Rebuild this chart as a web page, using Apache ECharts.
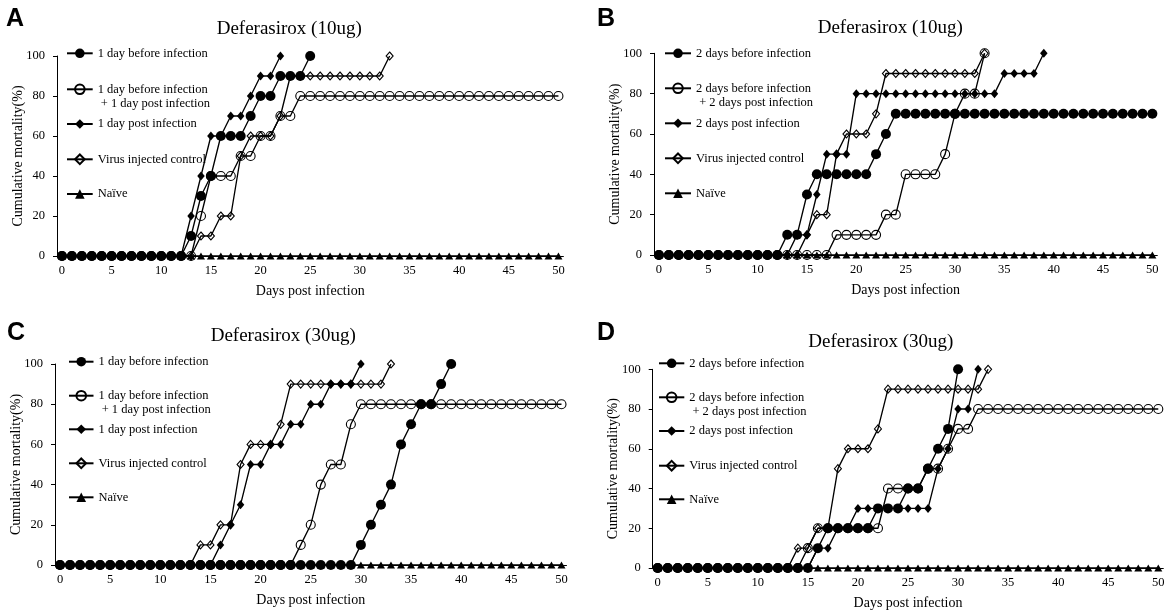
<!DOCTYPE html>
<html><head><meta charset="utf-8">
<script src="https://cdn.jsdelivr.net/npm/echarts@6/dist/echarts.min.js"></script>
<style>html,body{margin:0;padding:0;background:#fff}#c{width:1174px;height:611px}</style>
</head><body><div id="c"></div>
<script>
// ---------- DATA ----------
const days = ['0','1','2','3','4','5','6','7','8','9','10','11','12','13','14','15','16','17','18','19','20','21','22','23','24','25','26','27','28','29','30','31','32','33','34','35','36','37','38','39','40','41','42','43','44','45','46','47','48','49','50'];
const xTickLabels = ['0','5','10','15','20','25','30','35','40','45','50'];
const yTicks = [0,20,40,60,80,100];

const namesA = ['1 day before infection','1 day before infection + 1 day post infection','1 day post infection','Virus injected control','Naïve'];
const namesB = ['2 days before infection','2 days before infection + 2 days post infection','2 days post infection','Virus injected control','Naïve'];
const titles = ['Deferasirox (10ug)','Deferasirox (10ug)','Deferasirox (30ug)','Deferasirox (30ug)'];
const letters = ['A','B','C','D'];

// values indexed by day (0,1,2,...)
const A_before = [0,0,0,0,0,0,0,0,0,0,0,0,0,10,30,40,60,60,60,70,80,80,90,90,90,100];
const A_combo  = [0,0,0,0,0,0,0,0,0,0,0,0,0,0,20,40,40,40,50,50,60,60,70,70,80,80,80,80,80,80,80,80,80,80,80,80,80,80,80,80,80,80,80,80,80,80,80,80,80,80,80];
const A_post   = [0,0,0,0,0,0,0,0,0,0,0,0,0,20,40,60,60,70,70,80,90,90,100];
const A_virus  = [0,0,0,0,0,0,0,0,0,0,0,0,0,0,10,10,20,20,50,60,60,60,70,90,90,90,90,90,90,90,90,90,90,100];
const A_naive  = [0,0,0,0,0,0,0,0,0,0,0,0,0,0,0,0,0,0,0,0,0,0,0,0,0,0,0,0,0,0,0,0,0,0,0,0,0,0,0,0,0,0,0,0,0,0,0,0,0,0,0];

const B_before = [0,0,0,0,0,0,0,0,0,0,0,0,0,10,10,30,40,40,40,40,40,40,50,60,70,70,70,70,70,70,70,70,70,70,70,70,70,70,70,70,70,70,70,70,70,70,70,70,70,70,70];
const B_combo  = [0,0,0,0,0,0,0,0,0,0,0,0,0,0,0,0,0,0,10,10,10,10,10,20,20,40,40,40,40,50,70,80,80,100];
const B_post   = [0,0,0,0,0,0,0,0,0,0,0,0,0,0,0,10,30,50,50,50,80,80,80,80,80,80,80,80,80,80,80,80,80,80,80,90,90,90,90,100];
const B_virus  = [0,0,0,0,0,0,0,0,0,0,0,0,0,0,10,10,20,20,50,60,60,60,70,90,90,90,90,90,90,90,90,90,90,100];
const B_naive  = [0,0,0,0,0,0,0,0,0,0,0,0,0,0,0,0,0,0,0,0,0,0,0,0,0,0,0,0,0,0,0,0,0,0,0,0,0,0,0,0,0,0,0,0,0,0,0,0,0,0,0];

const C_before = [0,0,0,0,0,0,0,0,0,0,0,0,0,0,0,0,0,0,0,0,0,0,0,0,0,0,0,0,0,0,10,20,30,40,60,70,80,80,90,100];
const C_combo  = [0,0,0,0,0,0,0,0,0,0,0,0,0,0,0,0,0,0,0,0,0,0,0,0,10,20,40,50,50,70,80,80,80,80,80,80,80,80,80,80,80,80,80,80,80,80,80,80,80,80,80];
const C_post   = [0,0,0,0,0,0,0,0,0,0,0,0,0,0,0,0,10,20,30,50,50,60,60,70,70,80,80,90,90,90,100];
const C_virus  = [0,0,0,0,0,0,0,0,0,0,0,0,0,0,10,10,20,20,50,60,60,60,70,90,90,90,90,90,90,90,90,90,90,100];
const C_naive  = [0,0,0,0,0,0,0,0,0,0,0,0,0,0,0,0,0,0,0,0,0,0,0,0,0,0,0,0,0,0,0,0,0,0,0,0,0,0,0,0,0,0,0,0,0,0,0,0,0,0,0];

const D_before = [0,0,0,0,0,0,0,0,0,0,0,0,0,0,0,0,10,20,20,20,20,20,30,30,30,40,40,50,60,70,100];
const D_combo  = [0,0,0,0,0,0,0,0,0,0,0,0,0,0,0,10,20,20,20,20,20,20,20,40,40,40,40,50,50,60,70,70,80,80,80,80,80,80,80,80,80,80,80,80,80,80,80,80,80,80,80];
const D_post   = [0,0,0,0,0,0,0,0,0,0,0,0,0,0,0,0,10,10,20,20,30,30,30,30,30,30,30,30,50,60,80,80,100];
const D_virus  = [0,0,0,0,0,0,0,0,0,0,0,0,0,0,10,10,20,20,50,60,60,60,70,90,90,90,90,90,90,90,90,90,90,100];
const D_naive  = [0,0,0,0,0,0,0,0,0,0,0,0,0,0,0,0,0,0,0,0,0,0,0,0,0,0,0,0,0,0,0,0,0,0,0,0,0,0,0,0,0,0,0,0,0,0,0,0,0,0,0];

// ---------- LAYOUT / STYLE ----------
const SERIF = '"Liberation Serif","Times New Roman",serif';
const panels = [
  {grid:{left:57,  top:56,    width:506.4, height:200}, names:namesA, data:[A_before,A_combo,A_post,A_virus,A_naive],
   title:{x:216.7,y:29}, letter:{x:6,y:19}, legend:{x:66, w:25.7, ys:[53.3,89.3,124,159.3,194]}},
  {grid:{left:654, top:53.3,  width:503.3, height:201.7}, names:namesB, data:[B_before,B_combo,B_post,B_virus,B_naive],
   title:{x:817.7,y:28.5}, letter:{x:597,y:19}, legend:{x:664, w:26, ys:[53.3,88.3,123.3,158.3,193.3]}},
  {grid:{left:55,  top:364,   width:511.5, height:201}, names:namesA, data:[C_before,C_combo,C_post,C_virus,C_naive],
   title:{x:210.7,y:336.5}, letter:{x:7,y:333}, legend:{x:68, w:24.5, ys:[361.7,395.7,429.3,463.3,497.3]}},
  {grid:{left:652.7,top:369.3, width:510.6, height:200}, names:namesB, data:[D_before,D_combo,D_post,D_virus,D_naive],
   title:{x:808.3,y:342}, letter:{x:597,y:333}, legend:{x:658, w:25.3, ys:[363.3,397.3,431,465.7,499.3]}}
];
// marker styles per series role: before(filled circle), combo(open circle), post(filled diamond), virus(open diamond), naive(triangle)
const marks = [
  {symbol:'circle',   size:10,     fill:'#000', bw:0, z:6},
  {symbol:'circle',   size:9,      fill:'rgba(0,0,0,0)', bw:1.1, z:3},
  {symbol:'diamond',  size:[7.5,9],fill:'#000', bw:0, z:5},
  {symbol:'diamond',  size:[7,8],  fill:'rgba(0,0,0,0)', bw:1.1, z:4},
  {symbol:'triangle', size:[8,7],  fill:'#000', bw:0, z:2}
];

const grids=[], xAxes=[], yAxes=[], series=[], legends=[], graphics=[];
panels.forEach((p, pi) => {
  grids.push(Object.assign({containLabel:false}, p.grid));
  xAxes.push({gridIndex:pi, type:'category', data:days, boundaryGap:true,
    axisLine:{lineStyle:{color:'#000', width:1}}, axisTick:{show:false},
    axisLabel:{interval:4, color:'#000', fontFamily:SERIF, fontSize:12.5, margin:8,
      formatter:v => xTickLabels.includes(v) ? v : ''},
    splitLine:{show:false},
    name:'Days post infection', nameLocation:'middle', nameGap:28, nameMoveOverlap:false,
    nameTextStyle:{color:'#000', fontFamily:SERIF, fontSize:14}});
  yAxes.push({gridIndex:pi, type:'value', min:yTicks[0], max:yTicks[yTicks.length-1], interval:20,
    axisLine:{show:true, lineStyle:{color:'#000', width:1}},
    axisTick:{show:true, length:4, lineStyle:{color:'#000', width:1}},
    splitLine:{show:false},
    axisLabel:{color:'#000', fontFamily:SERIF, fontSize:12.5, margin:12},
    name:'Cumulative mortality(%)', nameLocation:'middle', nameGap:32, nameMoveOverlap:false,
    nameTextStyle:{color:'#000', fontFamily:SERIF, fontSize:14}});
  p.names.forEach((nm, si) => {
    const m = marks[si];
    series.push({type:'line', name:nm, xAxisIndex:pi, yAxisIndex:pi, data:p.data[si],
      symbol:m.symbol, symbolSize:m.size, showAllSymbol:true, z:m.z, animation:false,
      lineStyle:{color:'#000', width:1.35},
      itemStyle:{color:m.fill, borderColor:'#000', borderWidth:m.bw},
      emphasis:{disabled:true}});
    const twoLine = si === 1;
    const cy = p.legend.ys[si];
    legends.push({data:[nm], orient:'vertical', left:p.legend.x, top: twoLine ? cy-21 : cy-7,
      padding:0, itemWidth:p.legend.w, itemHeight:12, selectedMode:false,
      formatter: n => twoLine ? '\n' + n.replace(' + ', '\n + ') : n,
      textStyle:{color:'#000', fontFamily:SERIF, fontSize:12.5, lineHeight:14}});
  });
  graphics.push({type:'text', x:p.title.x, y:p.title.y, silent:true,
    style:{text:titles[pi], fill:'#000', fontFamily:SERIF, fontSize:19,
      textAlign:'left', textVerticalAlign:'middle', align:'left', verticalAlign:'middle'}});
  graphics.push({type:'text', x:p.letter.x, y:p.letter.y, silent:true,
    style:{text:letters[pi], fill:'#000', fontFamily:'"Liberation Sans",Arial,sans-serif', fontSize:25, fontWeight:'bold',
      textAlign:'left', textVerticalAlign:'middle', align:'left', verticalAlign:'middle'}});
});

const chart = echarts.init(document.getElementById('c'), null, {renderer:'canvas'});
chart.setOption({animation:false, backgroundColor:'#fff', grid:grids, xAxis:xAxes, yAxis:yAxes,
  series:series, legend:legends, graphic:{elements:graphics}});
</script></body></html>
